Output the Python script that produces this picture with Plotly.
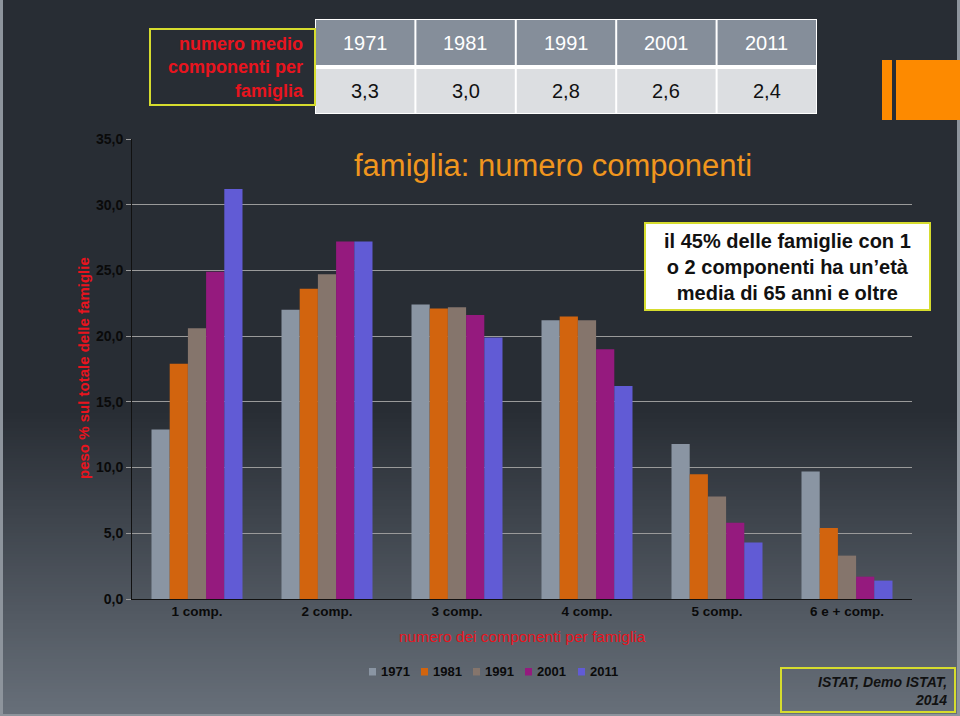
import plotly.graph_objects as go

# ---------------- data ----------------
categories = ["1 comp.", "2 comp.", "3 comp.", "4 comp.", "5 comp.", "6 e + comp."]
years = ["1971", "1981", "1991", "2001", "2011"]
v1971 = [12.9, 22.0, 22.4, 21.2, 11.8, 9.7]
v1981 = [17.9, 23.6, 22.1, 21.5, 9.5, 5.4]
v1991 = [20.6, 24.7, 22.2, 21.2, 7.8, 3.3]
v2001 = [24.9, 27.2, 21.6, 19.0, 5.8, 1.7]
v2011 = [31.2, 27.2, 19.9, 16.2, 4.3, 1.4]
avg_members = [3.3, 3.0, 2.8, 2.6, 2.4]
y_ticks = [0, 5, 10, 15, 20, 25, 30, 35]

series = [v1971, v1981, v1991, v2001, v2011]
colors = ["#8a95a3", "#d2640e", "#85756c", "#951a7e", "#615bd5"]

FONT = "Liberation Sans, Arial, sans-serif"
W, H = 960, 716
L, R, T, B = 132, 912, 139, 599  # plot area in pixels


def px(x):
    return (x - L) / (R - L)


def py(y):
    return (B - y) / (B - T)


fig = go.Figure()
for name, vals, col in zip(years, series, colors):
    fig.add_trace(go.Bar(x=categories, y=vals, name=name, showlegend=False,
                         marker=dict(color=col, line=dict(width=0))))

shapes = []
annotations = []

# background gradient (dark top, lighter bottom)
top_rgb = (40, 45, 52)
bot_rgb = (104, 112, 122)
g0, g1, step = 410, 716, 3
yy = g0
while yy < g1:
    t = (yy - g0) / (g1 - g0)
    c = tuple(int(round(a + (b - a) * t)) for a, b in zip(top_rgb, bot_rgb))
    shapes.append(dict(type="rect", xref="paper", yref="paper", layer="below",
                       x0=px(0), x1=px(W), y0=py(yy), y1=py(min(yy + step + 0.5, g1)),
                       fillcolor="rgb(%d,%d,%d)" % c, line=dict(width=0)))
    yy += step

# thin light frame on left / right / bottom
for (x0, x1, y0, y1) in [(0, 3, 0, 716), (957, 960, 0, 716), (0, 960, 714, 716)]:
    shapes.append(dict(type="rect", xref="paper", yref="paper", layer="below",
                       x0=px(x0), x1=px(x1), y0=py(y0), y1=py(y1),
                       fillcolor="#8d949c", line=dict(width=0)))

# orange decorations top right
for (x0, x1) in [(882, 892), (896, 960)]:
    shapes.append(dict(type="rect", xref="paper", yref="paper", layer="above",
                       x0=px(x0), x1=px(x1), y0=py(60), y1=py(120),
                       fillcolor="#fd8a00", line=dict(width=0)))

# summary table of average household size
tx0, tx1 = 315, 817
colw = (tx1 - tx0) / len(years)
shapes.append(dict(type="rect", xref="paper", yref="paper", layer="above",
                   x0=px(tx0), x1=px(tx1), y0=py(19), y1=py(114),
                   fillcolor="#ffffff", line=dict(width=0)))
shapes.append(dict(type="rect", xref="paper", yref="paper", layer="above",
                   x0=px(tx0 + 1), x1=px(tx1 - 1), y0=py(20), y1=py(65),
                   fillcolor="#858e9a", line=dict(width=0)))
shapes.append(dict(type="rect", xref="paper", yref="paper", layer="above",
                   x0=px(tx0 + 1), x1=px(tx1 - 1), y0=py(69), y1=py(113),
                   fillcolor="#dcdee1", line=dict(width=0)))
for k in range(1, len(years)):
    xs = tx0 + k * colw
    shapes.append(dict(type="line", xref="paper", yref="paper", layer="above",
                       x0=px(xs), x1=px(xs), y0=py(19), y1=py(114),
                       line=dict(color="#ffffff", width=2)))
for k, (yr, v) in enumerate(zip(years, avg_members)):
    xc = tx0 + (k + 0.5) * colw
    annotations.append(dict(xref="paper", yref="paper", x=px(xc), y=py(43), text=yr,
                            showarrow=False, xanchor="center", yanchor="middle",
                            font=dict(family=FONT, size=20, color="#ffffff")))
    annotations.append(dict(xref="paper", yref="paper", x=px(xc), y=py(91),
                            text=("%.1f" % v).replace(".", ","),
                            showarrow=False, xanchor="center", yanchor="middle",
                            font=dict(family=FONT, size=20, color="#111111")))

# label box left of table
shapes.append(dict(type="rect", xref="paper", yref="paper", layer="above",
                   x0=px(150), x1=px(315), y0=py(29), y1=py(105),
                   fillcolor="rgba(0,0,0,0)", line=dict(color="#d6dc2e", width=2)))
annotations.append(dict(xref="paper", yref="paper", x=px(306), y=py(67),
                        text="<b>numero medio<br>componenti per<br>famiglia</b>",
                        showarrow=False, xanchor="right", yanchor="middle", align="right",
                        font=dict(family=FONT, size=18, color="#e8141e")))

# chart title
annotations.append(dict(xref="paper", yref="paper", x=px(553), y=py(165),
                        text="famiglia: numero componenti", showarrow=False,
                        xanchor="center", yanchor="middle",
                        font=dict(family=FONT, size=31, color="#f0961e")))

# note box
shapes.append(dict(type="rect", xref="paper", yref="paper", layer="above",
                   x0=px(645), x1=px(930), y0=py(223), y1=py(310),
                   fillcolor="#ffffff", line=dict(color="#d6dc2e", width=2)))
annotations.append(dict(xref="paper", yref="paper", x=px(787.5), y=py(267),
                        text="<b>il 45% delle famiglie con 1<br>o 2 componenti ha un\u2019et\u00e0<br>media di 65 anni e oltre</b>",
                        showarrow=False, xanchor="center", yanchor="middle", align="center",
                        font=dict(family=FONT, size=20, color="#111111")))

# axis titles
annotations.append(dict(xref="paper", yref="paper", x=px(83), y=py(368),
                        text="<b>peso % sul totale delle famiglie</b>", textangle=-90,
                        showarrow=False, xanchor="center", yanchor="middle",
                        font=dict(family=FONT, size=15, color="#e8141e")))
annotations.append(dict(xref="paper", yref="paper", x=px(522), y=py(636),
                        text="numero dei componenti per famiglia",
                        showarrow=False, xanchor="center", yanchor="middle",
                        font=dict(family=FONT, size=15.5, color="#e8141e")))

# legend (squares + labels), built from the series names / colours
leg_x = [369, 421, 473, 525, 578]
for lx, yr, col in zip(leg_x, years, colors):
    shapes.append(dict(type="rect", xref="paper", yref="paper", layer="above",
                       x0=px(lx), x1=px(lx + 7), y0=py(668), y1=py(675.5),
                       fillcolor=col, line=dict(width=0)))
    annotations.append(dict(xref="paper", yref="paper", x=px(lx + 10), y=py(671.5),
                            text="<b>%s</b>" % yr, showarrow=False,
                            xanchor="left", yanchor="middle",
                            font=dict(family=FONT, size=13, color="#0a0a0a")))

# source box
shapes.append(dict(type="rect", xref="paper", yref="paper", layer="above",
                   x0=px(781), x1=px(955), y0=py(668), y1=py(712),
                   fillcolor="rgba(0,0,0,0)", line=dict(color="#d6dc2e", width=2)))
annotations.append(dict(xref="paper", yref="paper", x=px(949), y=py(691),
                        text="<b><i>ISTAT, Demo ISTAT,<br>2014</i></b>",
                        showarrow=False, xanchor="right", yanchor="middle", align="right",
                        font=dict(family=FONT, size=14, color="#111111")))

fig.update_layout(
    width=W, height=H,
    margin=dict(l=L, r=W - R, t=T, b=H - B, pad=0),
    paper_bgcolor="rgb(40,45,52)",
    plot_bgcolor="rgba(0,0,0,0)",
    separators=", ",
    barmode="group", bargap=0.3, bargroupgap=0,
    font=dict(family=FONT, size=14, color="#111111"),
    shapes=shapes, annotations=annotations,
    showlegend=False,
    xaxis=dict(showgrid=False, showline=True, linecolor="#111111", linewidth=1,
               ticks="", tickfont=dict(family=FONT, size=13.5, color="#0a0a0a", weight="bold"),
               zeroline=False),
    yaxis=dict(range=[0, 35], tickvals=y_ticks, tickformat=".1f",
               showgrid=True, gridcolor="#9a9a9a", gridwidth=1,
               showline=True, linecolor="#111111", linewidth=1,
               ticks="outside", ticklen=5, tickcolor="#9a9a9a",
               tickfont=dict(family=FONT, size=14, color="#0a0a0a", weight="bold"),
               zeroline=False),
)

fig.write_html("out.html")
